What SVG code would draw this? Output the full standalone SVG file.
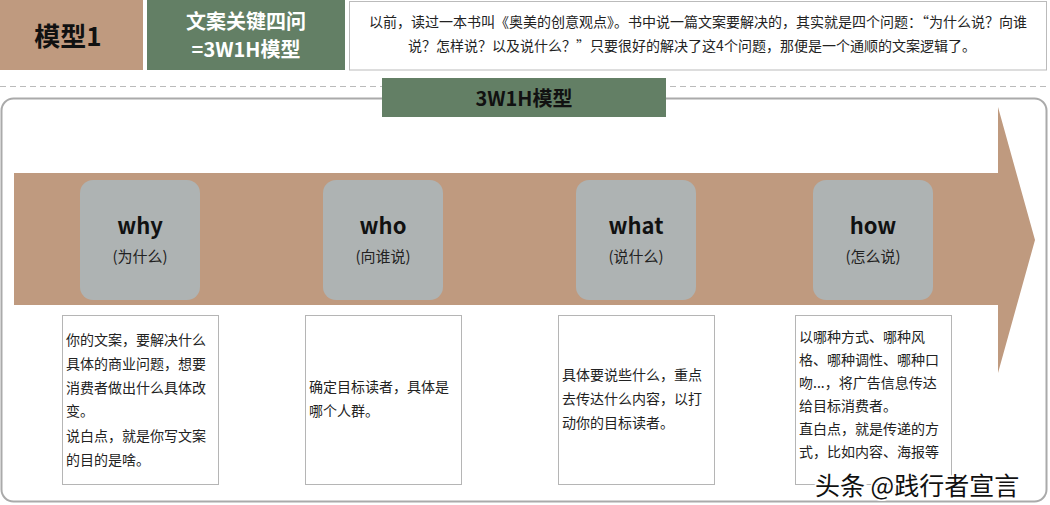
<svg xmlns="http://www.w3.org/2000/svg" width="1050" height="505" viewBox="0 0 1050 505">
<style>
text{font-family:"Noto Sans CJK SC","Microsoft YaHei","Noto Sans",sans-serif}
.tan{fill:#BF9A7F}
.green{fill:#637F65}
.node{fill:#AEB3B3}
.lbl{font-size:22px;font-weight:bold;fill:#111;text-anchor:middle}
.sub{font-size:15px;fill:#222;text-anchor:middle}
.box{fill:#fff;stroke:#b5b5b5;stroke-width:1}
.body{font-size:14px;fill:#222}
.desc{font-size:14px;fill:#222;text-anchor:middle}
</style>
<rect width="1050" height="505" fill="#fff"/>
<g id="header">
<rect class="tan" x="0" y="0" width="143" height="70"/>
<text x="68" y="46" font-size="26" font-weight="bold" fill="#111" text-anchor="middle">模型1</text>
<rect class="green" x="147" y="0" width="198" height="70"/>
<text x="246" y="29" font-size="20" font-weight="bold" fill="#fff" text-anchor="middle">文案关键四问</text>
<text x="246" y="57" font-size="20" font-weight="bold" fill="#fff" text-anchor="middle">=3W1H模型</text>
<rect x="349.5" y="1.5" width="697" height="68.5" fill="#fff" stroke="#bbb" stroke-width="1"/>
<text class="desc" x="698" y="27">以前，读过一本书叫《奥美的创意观点》。书中说一篇文案要解决的，其实就是四个问题：“为什么说？向谁</text>
<text class="desc" x="692" y="51">说？怎样说？以及说什么？”只要很好的解决了这4个问题，那便是一个通顺的文案逻辑了。</text>
</g>
<line x1="0" y1="86.5" x2="1050" y2="86.5" stroke="#bbb" stroke-width="1" stroke-dasharray="6 4"/>
<rect x="1.5" y="98.5" width="1045" height="403" rx="12" fill="#fff" stroke="#aaa" stroke-width="2"/>
<g id="title">
<rect class="green" x="382" y="78" width="284" height="39"/>
<text x="524" y="106" font-size="20" font-weight="bold" fill="#111" text-anchor="middle">3W1H模型</text>
</g>
<g id="connectors">
<polygon class="tan" points="14,173 998,173 998,107 1035,240 998,373 998,305 14,305"/>
</g>
<g id="why">
<rect class="node" x="80" y="180" width="120" height="120" rx="13"/>
<text class="lbl" x="140" y="234">why</text>
<text class="sub" x="140" y="262">(为什么)</text>
</g>
<g id="who">
<rect class="node" x="323" y="180" width="120" height="120" rx="13"/>
<text class="lbl" x="383" y="234">who</text>
<text class="sub" x="383" y="262">(向谁说)</text>
</g>
<g id="what">
<rect class="node" x="576" y="180" width="120" height="120" rx="13"/>
<text class="lbl" x="636" y="234">what</text>
<text class="sub" x="636" y="262">(说什么)</text>
</g>
<g id="how">
<rect class="node" x="813" y="180" width="120" height="120" rx="13"/>
<text class="lbl" x="873" y="234">how</text>
<text class="sub" x="873" y="262">(怎么说)</text>
</g>
<g id="why-note">
<rect class="box" x="62.5" y="315.5" width="156" height="169"/>
<text class="body" x="66" y="345">你的文案，要解决什么</text>
<text class="body" x="66" y="369">具体的商业问题，想要</text>
<text class="body" x="66" y="393">消费者做出什么具体改</text>
<text class="body" x="66" y="416">变。</text>
<text class="body" x="66" y="441">说白点，就是你写文案</text>
<text class="body" x="66" y="465">的目的是啥。</text>
</g>
<g id="who-note">
<rect class="box" x="305.5" y="315.5" width="156" height="169"/>
<text class="body" x="309" y="392">确定目标读者，具体是</text>
<text class="body" x="309" y="416">哪个人群。</text>
</g>
<g id="what-note">
<rect class="box" x="558.5" y="315.5" width="156" height="169"/>
<text class="body" x="562" y="380">具体要说些什么，重点</text>
<text class="body" x="562" y="404">去传达什么内容，以打</text>
<text class="body" x="562" y="428">动你的目标读者。</text>
</g>
<g id="how-note">
<rect class="box" x="795.5" y="315.5" width="156" height="169"/>
<text class="body" x="799" y="342">以哪种方式、哪种风</text>
<text class="body" x="799" y="365">格、哪种调性、哪种口</text>
<text class="body" x="799" y="388">吻...，将广告信息传达</text>
<text class="body" x="799" y="411">给目标消费者。</text>
<text class="body" x="799" y="434">直白点，就是传递的方</text>
<text class="body" x="799" y="457">式，比如内容、海报等</text>
</g>
<text x="815" y="495" font-size="25" fill="#111" stroke="#fff" stroke-width="3" paint-order="stroke" style="font-family:'Noto Sans CJK SC',sans-serif">头条 @践行者宣言</text>
</svg>
